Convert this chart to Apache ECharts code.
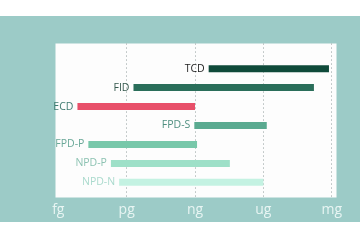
<!DOCTYPE html>
<html><head><meta charset="utf-8">
<script src="https://cdn.jsdelivr.net/npm/echarts@6/dist/echarts.min.js"></script>
<style>html,body{margin:0;padding:0;background:#fff}#c{width:360px;height:240px}</style>
</head><body><div id="c"></div>
<script>
const categories = ['TCD','FID','ECD','FPD-S','FPD-P','NPD-P','NPD-N'];
const startValues = [2.2, 1.1, 0.28, 1.99, 0.44, 0.77, 0.89];
const endValues = [3.96, 3.74, 2.0, 3.05, 2.03, 2.51, 3.0];
const tickLabels = ['fg','pg','ng','ug','mg'];
const barColors = ['#0f4a3a','#2a6e5a','#e8506a','#5aaa90','#78c8aa','#9ee0c8','#c4f2e2'];
const labelColors = ['#222222','#35584d','#3f7a70','#4f8f80','#6aa898','#8cc2b2','#aadacd'];

const chart = echarts.init(document.getElementById('c'), null, {renderer:'canvas'});
const font = '"Open Sans", "Noto Sans", sans-serif';
chart.setOption({
  animation:false,
  backgroundColor:'#ffffff',
  graphic:[
    {type:'rect', shape:{x:0,y:16,width:360,height:206}, style:{fill:'#9ccbc7'}, z:-10},
    {type:'rect', shape:{x:55.5,y:43.5,width:281,height:154}, style:{fill:'#fdfdfd'}, z:-9}
  ],
  grid:[
    {left:58.3, right:28.3, top:43.3, bottom:42.7},
    {left:58.3, right:28.3, top:59.2, bottom:48.2}
  ],
  xAxis:[
    {gridIndex:0, type:'value', min:0, max:4, interval:1,
     axisLine:{show:false}, axisTick:{show:false},
     splitLine:{show:true, showMinLine:false, lineStyle:{color:'#b4bcbc', type:[1.5,2.5], width:1}},
     axisLabel:{color:'#e8f5f3', fontSize:14, fontFamily:font, margin:6,
       formatter:(v)=>tickLabels[v]}},
    {gridIndex:1, type:'value', min:0, max:4, show:false, splitLine:{show:false}}
  ],
  yAxis:[
    {gridIndex:0, type:'category', show:false, data:['a']},
    {gridIndex:1, type:'category', inverse:true, show:false, data:categories}
  ],
  series:[
    {type:'bar', xAxisIndex:1, yAxisIndex:1, stack:'s', barWidth:7,
     itemStyle:{color:'transparent'}, data:startValues, silent:true},
    {type:'bar', xAxisIndex:1, yAxisIndex:1, stack:'s', barWidth:7,
     data:endValues.map((e,i)=>({
       value:e-startValues[i],
       itemStyle:{color:barColors[i]},
       label:{show:true, position:'left', distance:4, formatter:categories[i],
         color:labelColors[i], fontSize:10.5, fontFamily:font}
     }))}
  ]
});
</script></body></html>
